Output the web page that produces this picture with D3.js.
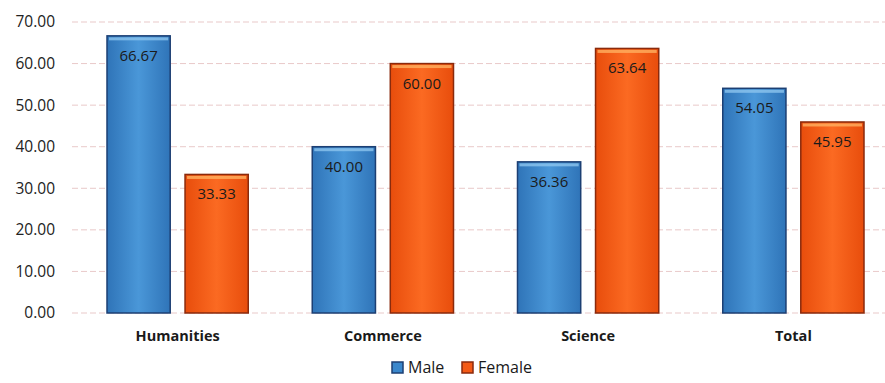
<!DOCTYPE html>
<html><head><meta charset="utf-8">
<script src="https://cdn.jsdelivr.net/npm/d3@7"></script>
<style>body{margin:0;background:#fff}svg{display:block}text{font-family:"Open Sans",sans-serif}</style>
</head><body>
<svg id="c" width="885" height="383"></svg>
<script>
const categories = ["Humanities", "Commerce", "Science", "Total"];
const seriesNames = ["Male", "Female"];
const male = [66.67, 40.00, 36.36, 54.05];
const female = [33.33, 60.00, 63.64, 45.95];
const yTicks = [0, 10, 20, 30, 40, 50, 60, 70];

const svg = d3.select("#c");
const colors = {Male: "#3a87cc", Female: "#f45a16"};
const strokes = {Male: "#1c3f73", Female: "#8a2a0c"};

const defs = svg.append("defs");
[["Male", "#2f74b8", "#4a97d8"], ["Female", "#e84d0c", "#fb6a22"]].forEach(([k, a, b]) => {
  const g = defs.append("linearGradient").attr("id", "g" + k).attr("x1", 0).attr("x2", 1).attr("y1", 0).attr("y2", 0);
  g.append("stop").attr("offset", "0%").attr("stop-color", a);
  g.append("stop").attr("offset", "50%").attr("stop-color", b);
  g.append("stop").attr("offset", "100%").attr("stop-color", a);
});

const y = d3.scaleLinear().domain([0, 70]).range([313, 22]);
const x0 = d3.scaleBand().domain(categories).range([75, 896]).paddingInner(0).paddingOuter(0);
const x1 = d3.scaleBand().domain(seriesNames).range([32, x0.bandwidth() - 32]).paddingInner(0.19).paddingOuter(0);

// gridlines
svg.append("g").selectAll("line").data(yTicks).join("line")
  .attr("x1", 72).attr("x2", 885)
  .attr("y1", d => y(d)).attr("y2", d => y(d))
  .attr("stroke", "#e9c9c9").attr("stroke-width", 1).attr("stroke-dasharray", "6,3");

// y axis labels
const yAxis = d3.axisLeft(y).tickValues(yTicks).tickFormat(d3.format(".2f")).tickSize(0).tickPadding(0);
svg.append("g").attr("transform", "translate(55,0)").call(yAxis)
  .call(g => g.select(".domain").remove())
  .selectAll("text").attr("font-size", 15.5).attr("fill", "#222").attr("font-family", "Open Sans");

const data = categories.map((c, i) => ({cat: c, vals: [{k: "Male", v: male[i]}, {k: "Female", v: female[i]}]}));

const grp = svg.append("g").selectAll("g").data(data).join("g")
  .attr("transform", d => `translate(${x0(d.cat)},0)`);

grp.selectAll("rect.bar").data(d => d.vals).join("rect").attr("class", "bar")
  .attr("x", d => x1(d.k)).attr("width", x1.bandwidth())
  .attr("y", d => y(d.v)).attr("height", d => y(0) - y(d.v))
  .attr("fill", d => `url(#g${d.k})`).attr("stroke", d => strokes[d.k]).attr("stroke-width", 1.5);

// top bevel highlight
grp.selectAll("rect.hl").data(d => d.vals).join("rect").attr("class", "hl")
  .attr("x", d => x1(d.k) + 2).attr("width", x1.bandwidth() - 4)
  .attr("y", d => y(d.v) + 1.5).attr("height", 3)
  .attr("fill", d => d.k === "Male" ? "#8cc4ee" : "#ffb060").attr("opacity", 0.8);

grp.selectAll("text.val").data(d => d.vals).join("text").attr("class", "val")
  .attr("x", d => x1(d.k) + x1.bandwidth() / 2)
  .attr("y", d => y(d.v) + 25)
  .attr("text-anchor", "middle").attr("font-size", 15).attr("fill", "#1a1a1a")
  .text(d => d.v.toFixed(2));

// x axis labels
const xAxis = d3.axisBottom(x0).tickSize(0).tickPadding(0);
svg.append("g").attr("transform", "translate(0,331)").call(xAxis)
  .call(g => g.select(".domain").remove())
  .selectAll("text").attr("font-size", 14.5).attr("font-weight", "bold").attr("fill", "#1a1a1a").attr("font-family", "Open Sans");

// legend
const leg = svg.append("g");
const legItems = [{k: "Male", x: 392}, {k: "Female", x: 462}];
legItems.forEach(it => {
  leg.append("rect").attr("x", it.x).attr("y", 362).attr("width", 11).attr("height", 11)
    .attr("fill", colors[it.k]).attr("stroke", strokes[it.k]).attr("stroke-width", 1.5);
  leg.append("text").attr("x", it.x + 16).attr("y", 373).attr("font-size", 16).attr("fill", "#1a1a1a").text(it.k);
});
</script>
</body></html>
